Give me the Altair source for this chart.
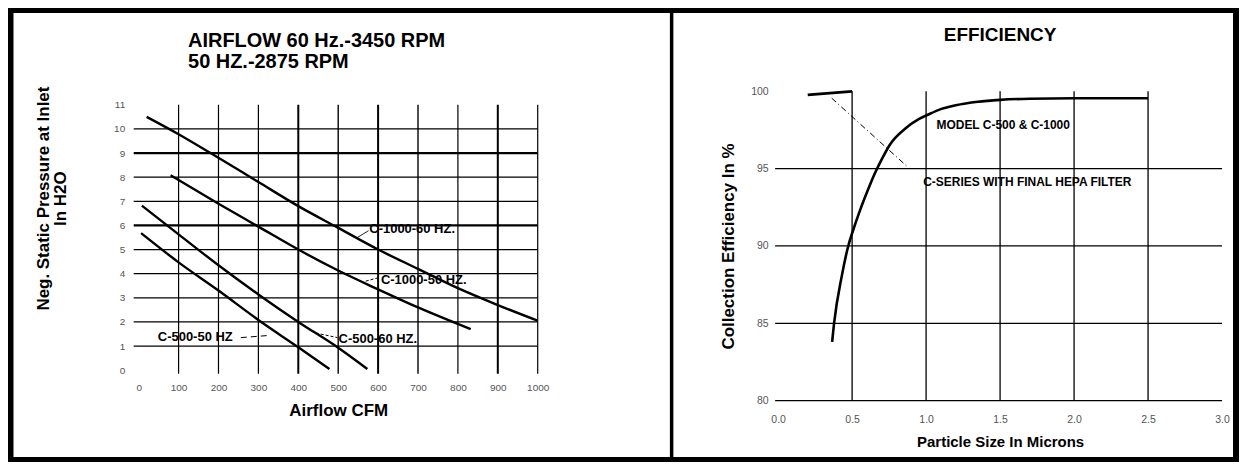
import altair as alt
import pandas as pd

FONT = "Liberation Sans"

# ---------------- Left panel: airflow curves ----------------
airflow_ticks = [0, 100, 200, 300, 400, 500, 600, 700, 800, 900, 1000]
pressure_ticks = [0, 1, 2, 3, 4, 5, 6, 7, 8, 9, 10, 11]

c1000_60_cfm = [20, 100, 180, 300, 400, 500, 600, 700, 800, 900, 1000]
c1000_60_in = [10.5, 9.78, 9.0, 7.8, 6.8, 5.9, 5.0, 4.2, 3.4, 2.7, 2.05]
c1000_50_cfm = [80, 200, 300, 400, 500, 600, 700, 832]
c1000_50_in = [8.08, 6.9, 5.95, 5.0, 4.13, 3.35, 2.6, 1.7]
c500_60_cfm = [8, 100, 200, 300, 400, 500, 573]
c500_60_in = [6.82, 5.63, 4.35, 3.14, 2.0, 0.93, 0.05]
c500_50_cfm = [6, 100, 200, 300, 400, 478]
c500_50_in = [5.68, 4.47, 3.3, 2.08, 0.95, 0.05]

hgrid_left = [1, 2, 3, 4, 5, 6, 7, 8, 9, 10]
hgrid_left_w = [1.2, 1.2, 1.2, 1.2, 1.2, 2.2, 1.2, 1.2, 2.2, 1.2]
vgrid_left = [100, 200, 300, 400, 500, 600, 700, 800, 900, 1000]
vgrid_left_w = [1.2, 1.2, 1.2, 2.0, 1.4, 2.0, 1.4, 1.2, 2.0, 1.2]

left_labels = ["C-1000-60 HZ.", "C-1000-50 HZ.", "C-500-60 HZ.", "C-500-50 HZ"]
left_label_x = [578, 607, 501, 48]
left_label_y = [5.85, 3.75, 1.31, 1.38]
leader_x1 = [548, 569, 444, 256]
leader_y1 = [5.5, 3.69, 1.54, 1.35]
leader_x2 = [576, 598, 498, 327]
leader_y2 = [5.78, 3.82, 1.35, 1.44]
leader_style = ["solid", "dash", "dash", "long"]

left_title = ["AIRFLOW 60 Hz.-3450 RPM", "50 HZ.-2875 RPM"]

# ---------------- Right panel: efficiency ----------------
size_ticks = [0.0, 0.5, 1.0, 1.5, 2.0, 2.5, 3.0]
eff_ticks = [80, 85, 90, 95, 100]

model_um = [0.365, 0.378, 0.43, 0.474, 0.508, 0.557, 0.61, 0.654, 0.70, 0.755,
            0.86, 0.95, 1.015, 1.1, 1.2, 1.35, 1.5, 1.7, 2.0, 2.5]
model_eff = [83.8, 85.0, 88.05, 90.0, 91.05, 92.4, 93.7, 94.7, 95.6, 96.55,
             97.6, 98.2, 98.5, 98.85, 99.1, 99.33, 99.45, 99.52, 99.55, 99.55]
hepa_um = [0.2, 0.5]
hepa_eff = [99.77, 100.0]
hepa_leader_um = [0.362, 0.879]
hepa_leader_eff = [99.56, 95.08]

hgrid_right = [80, 85, 90, 95]
vgrid_right = [0.5, 1.0, 1.5, 2.0, 2.5]

right_labels = ["MODEL C-500 & C-1000", "C-SERIES WITH FINAL HEPA FILTER"]
right_label_x = [1.07, 0.98]
right_label_y = [97.85, 94.15]

# ================= Left chart =================
# plot top aligned with the right panel's plot top (the y scale runs a little above 11)
W1, H1 = 400, 279.5
xs1 = alt.Scale(domain=[0, 1000], nice=False, zero=False)
ys1 = alt.Scale(domain=[0, 11.558], nice=False, zero=False)
ax_x1 = alt.Axis(values=airflow_ticks, format="d", domain=False, ticks=False, grid=False, zindex=1,
                 labelFont=FONT, labelFontSize=10, labelColor="#555", labelPadding=12,
                 labelFlush=False, labelOverlap=False,
                 title="Airflow CFM", titleFont=FONT, titleFontSize=17,
                 titleFontWeight="bold", titleColor="black", titlePadding=10)
ax_y1 = alt.Axis(values=pressure_ticks, format="d", domain=False, ticks=False, grid=False, zindex=1,
                 labelFont=FONT, labelFontSize=10, labelColor="#555", labelPadding=14,
                 labelFlush=False, labelOverlap=False,
                 title=["Neg. Static Pressure at Inlet", "In H2O"], titleFont=FONT,
                 titleFontSize=17, titleFontWeight="bold", titleColor="black",
                 titleAngle=270, titleAlign="center", titleBaseline="middle",
                 titleLineHeight=17, titleX=-95, titleY=107)


def X1(f):
    return alt.X(f, type="quantitative", scale=xs1, axis=ax_x1)


def Y1(f):
    return alt.Y(f, type="quantitative", scale=ys1, axis=ax_y1)


one = pd.DataFrame({"k": [0]})

bg1 = alt.Chart(one).mark_rect(color="white").encode(
    x=alt.value(-125.5), x2=alt.value(532.5), y=alt.value(-78.5), y2=alt.value(366.5))

hg1 = alt.Chart(pd.DataFrame({"y": hgrid_left, "w": hgrid_left_w})).mark_rule(color="black").encode(
    y=Y1("y"), x=alt.value(-5), x2=alt.value(W1),
    strokeWidth=alt.StrokeWidth("w:Q", scale=None))

vg1 = alt.Chart(pd.DataFrame({"x": vgrid_left, "w": vgrid_left_w,
                              "y": [-0.15] * len(vgrid_left), "y2": [11] * len(vgrid_left)})).mark_rule(color="black").encode(
    x=X1("x"), y=Y1("y"), y2="y2",
    strokeWidth=alt.StrokeWidth("w:Q", scale=None))

rows = []
for name, xs, ys in [("C-1000-60", c1000_60_cfm, c1000_60_in),
                     ("C-1000-50", c1000_50_cfm, c1000_50_in),
                     ("C-500-60", c500_60_cfm, c500_60_in),
                     ("C-500-50", c500_50_cfm, c500_50_in)]:
    for i, (a, b) in enumerate(zip(xs, ys)):
        rows.append({"series": name, "x": a, "y": b, "o": i})
curves1 = alt.Chart(pd.DataFrame(rows)).mark_line(color="black", strokeWidth=2.4,
                                                  interpolate="monotone").encode(
    x=X1("x"), y=Y1("y"), detail="series:N", order="o:Q")

lead1 = alt.Chart(pd.DataFrame({"x": leader_x1, "y": leader_y1, "x2": leader_x2,
                                "y2": leader_y2, "s": leader_style})).mark_rule(
    color="black", strokeWidth=1).encode(
    x=X1("x"), y=Y1("y"), x2="x2", y2="y2",
    strokeDash=alt.StrokeDash("s:N", scale=alt.Scale(domain=["solid", "dash", "long"],
                                                     range=[[1, 0], [3, 2], [6, 4]]),
                              legend=None))

lab1 = alt.Chart(pd.DataFrame({"x": left_label_x, "y": left_label_y, "t": left_labels})).mark_text(
    align="left", baseline="middle", font=FONT, fontSize=13, fontWeight="bold", color="black").encode(
    x=X1("x"), y=Y1("y"), text="t:N")

title1 = alt.Chart(one).mark_text(
    text=left_title, align="left", baseline="alphabetic", font=FONT, fontSize=20,
    fontWeight="bold", color="black", lineHeight=21).encode(
    x=alt.value(49.5), y=alt.value(-44))

left = alt.layer(bg1, hg1, vg1, curves1, lead1, lab1, title1).properties(width=W1, height=H1)

# ================= Right chart =================
W2, H2 = 445, 310
xs2 = alt.Scale(domain=[0, 3], nice=False, zero=False)
ys2 = alt.Scale(domain=[80, 100], nice=False, zero=False)
ax_x2 = alt.Axis(values=size_ticks, format=".1f", domain=False, ticks=False, grid=False, zindex=1,
                 labelFont=FONT, labelFontSize=10.5, labelColor="#555", labelPadding=13.5,
                 labelFlush=False, labelOverlap=False,
                 title="Particle Size In Microns", titleFont=FONT, titleFontSize=15,
                 titleFontWeight="bold", titleColor="black", titlePadding=10)
ax_y2 = alt.Axis(values=eff_ticks, format="d", domain=False, ticks=False, grid=False, zindex=1,
                 labelFont=FONT, labelFontSize=10.5, labelColor="#555", labelPadding=10,
                 labelFlush=False, labelOverlap=False,
                 title="Collection Efficiency In %", titleFont=FONT, titleFontSize=17,
                 titleFontWeight="bold", titleColor="black", titlePadding=13)


def X2(f):
    return alt.X(f, type="quantitative", scale=xs2, axis=ax_x2)


def Y2(f):
    return alt.Y(f, type="quantitative", scale=ys2, axis=ax_y2)


bg2 = alt.Chart(one).mark_rect(color="white").encode(
    x=alt.value(-105), x2=alt.value(456), y=alt.value(-78.5), y2=alt.value(366.5))

hg2 = alt.Chart(pd.DataFrame({"y": hgrid_right})).mark_rule(color="black", strokeWidth=1.3).encode(
    y=Y2("y"), x=alt.value(-3), x2=alt.value(W2))

vg2 = alt.Chart(pd.DataFrame({"x": vgrid_right, "y": [80] * len(vgrid_right),
                              "y2": [100] * len(vgrid_right)})).mark_rule(color="black", strokeWidth=1.3).encode(
    x=X2("x"), y=Y2("y"), y2="y2")

rows2 = [{"series": "model", "x": a, "y": b, "o": i} for i, (a, b) in enumerate(zip(model_um, model_eff))]
rows2 += [{"series": "hepa", "x": a, "y": b, "o": i} for i, (a, b) in enumerate(zip(hepa_um, hepa_eff))]
curves2 = alt.Chart(pd.DataFrame(rows2)).mark_line(color="black", strokeWidth=2.6,
                                                   interpolate="monotone").encode(
    x=X2("x"), y=Y2("y"), detail="series:N", order="o:Q")

lead2 = alt.Chart(pd.DataFrame({"x": [hepa_leader_um[0]], "y": [hepa_leader_eff[0]],
                                "x2": [hepa_leader_um[1]], "y2": [hepa_leader_eff[1]]})).mark_rule(
    color="black", strokeWidth=1, strokeDash=[6, 3, 1, 3]).encode(
    x=X2("x"), y=Y2("y"), x2="x2", y2="y2")

lab2 = alt.Chart(pd.DataFrame({"x": right_label_x, "y": right_label_y, "t": right_labels})).mark_text(
    align="left", baseline="middle", font=FONT, fontSize=12, fontWeight="bold", color="black").encode(
    x=X2("x"), y=Y2("y"), text="t:N")

title2 = alt.Chart(one).mark_text(
    text="EFFICIENCY", align="center", baseline="alphabetic", font=FONT, fontSize=19,
    fontWeight="bold", color="black").encode(
    x=alt.value(222.5), y=alt.value(-50.5))

right = alt.layer(bg2, hg2, vg2, curves2, lead2, lab2, title2).properties(width=W2, height=H2)

chart = alt.hconcat(left, right, spacing=2).properties(
    background="black",
    padding={"left": 5, "top": 4, "right": 5, "bottom": 4},
).configure_view(stroke="transparent")

chart.save("out.html", embed_options={"renderer": "svg", "actions": False})
